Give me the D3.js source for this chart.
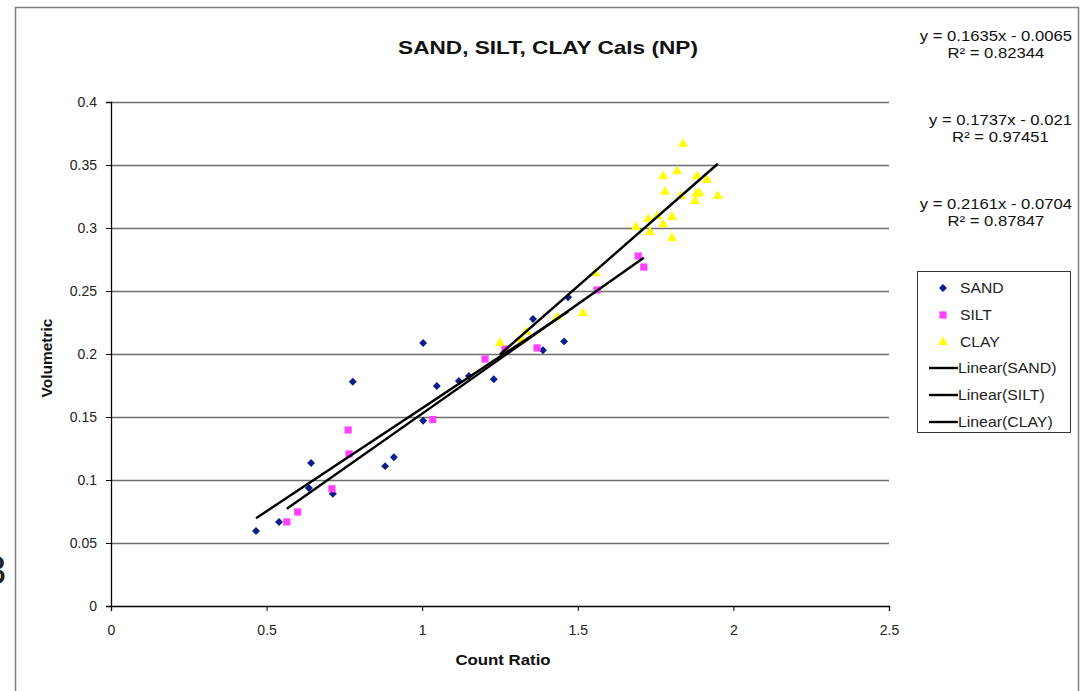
<!DOCTYPE html>
<html>
<head>
<meta charset="utf-8">
<script src="https://cdn.jsdelivr.net/npm/d3@7"></script>
<style>
  body { margin: 0; background: #fff; }
  text { font-family: "Liberation Sans", Arial, sans-serif; }
</style>
</head>
<body>
<div id="myChart"></div>
<script>
// readings
var sandX = [0.466, 0.54, 0.643, 0.636, 0.713, 0.777, 0.881, 0.909, 1.003, 1.003, 1.047, 1.118, 1.15, 1.23, 1.356, 1.388, 1.456, 1.469];
var sandY = [0.0595, 0.0667, 0.1135, 0.0937, 0.089, 0.178, 0.111, 0.118, 0.2087, 0.147, 0.1746, 0.1786, 0.1825, 0.18, 0.2278, 0.203, 0.21, 0.245];

var siltX = [0.565, 0.60, 0.71, 0.765, 0.762, 1.034, 1.202, 1.266, 1.369, 1.562, 1.694, 1.712];
var siltY = [0.0667, 0.0746, 0.093, 0.1206, 0.1397, 0.148, 0.196, 0.204, 0.2048, 0.2508, 0.2778, 0.269];

var clayX = [1.25, 1.32, 1.334, 1.433, 1.517, 1.555, 1.838, 1.774, 1.819, 1.883, 1.915, 1.78, 1.832, 1.88, 1.89, 1.877, 1.95, 1.726, 1.755, 1.803, 1.774, 1.687, 1.732, 1.803];
var clayY = [0.2087, 0.211, 0.2175, 0.229, 0.2325, 0.264, 0.3667, 0.341, 0.345, 0.341, 0.338, 0.3286, 0.3254, 0.327, 0.3278, 0.3214, 0.3254, 0.307, 0.3095, 0.3087, 0.303, 0.3008, 0.2968, 0.292];

var seriesNames = ["SAND", "SILT", "CLAY"];
var slopes = [0.1635, 0.1737, 0.2161];
var intercepts = [-0.0065, -0.021, -0.0704];
var eqTexts = ["y = 0.1635x - 0.0065", "y = 0.1737x - 0.021", "y = 0.2161x - 0.0704"];
var r2Texts = ["R\u00b2 = 0.82344", "R\u00b2 = 0.97451", "R\u00b2 = 0.87847"];

var xTicks = [0, 0.5, 1, 1.5, 2, 2.5];
var yTicks = [0, 0.05, 0.1, 0.15, 0.2, 0.25, 0.3, 0.35, 0.4];

var colors = ["#0b1c8c", "#ff40ff", "#ffff00"];
var allX = [sandX, siltX, clayX];
var allY = [sandY, siltY, clayY];

var svg = d3.select("#myChart").append("svg")
  .attr("width", 1090).attr("height", 691);

// text in the source is a little wider than Liberation Sans, stretch it
function stretch(t, k) {
  var w = t.node().getComputedTextLength();
  t.attr("textLength", w * k).attr("lengthAdjust", "spacingAndGlyphs");
  return t;
}

// outer chart frame
svg.append("path")
  .attr("d", "M15.5,700 V7.5 H1078.5 V700")
  .attr("fill", "none").attr("stroke", "#808080").attr("stroke-width", 1.5);

// stray glyph at the left edge
svg.append("text").attr("x", -16).attr("y", 584)
  .attr("font-size", 40).attr("fill", "#222").text("3");

var x = d3.scaleLinear().domain([0, 2.5]).range([111, 889]);
var y = d3.scaleLinear().domain([0, 0.4]).range([606, 102]);

// gridlines
svg.append("g").selectAll("line")
  .data(yTicks.slice(1))
  .enter().append("line")
  .attr("x1", x(0)).attr("x2", x(2.5))
  .attr("y1", function(d) { return Math.round(y(d)) + 0.5; })
  .attr("y2", function(d) { return Math.round(y(d)) + 0.5; })
  .attr("stroke", "#6e6e6e").attr("stroke-width", 1.6);

var yAxis = svg.append("g")
  .attr("transform", "translate(" + x(0) + ",0)")
  .call(d3.axisLeft(y).tickValues(yTicks).tickSize(5).tickPadding(9)
    .tickFormat(function(d) { return String(+d.toFixed(2)); }));

var xAxis = svg.append("g")
  .attr("transform", "translate(0," + y(0) + ")")
  .call(d3.axisBottom(x).tickValues(xTicks).tickSize(5).tickPadding(14)
    .tickFormat(function(d) { return String(d); }));

[xAxis, yAxis].forEach(function(a) {
  a.selectAll("text").attr("font-size", 14).attr("fill", "#222")
    .attr("font-family", "'Liberation Sans', Arial, sans-serif");
  a.selectAll("line").attr("stroke", "#000");
  a.select(".domain").attr("stroke", "#000").attr("stroke-width", 1.3);
});

// titles
stretch(svg.append("text").attr("x", 548).attr("y", 54).attr("text-anchor", "middle")
  .attr("font-size", 19).attr("font-weight", "bold").attr("fill", "#111")
  .text("SAND, SILT, CLAY Cals (NP)"), 1.19);
stretch(svg.append("text").attr("x", 503).attr("y", 665).attr("text-anchor", "middle")
  .attr("font-size", 15).attr("font-weight", "bold").attr("fill", "#111")
  .text("Count Ratio"), 1.12);
svg.append("text").attr("transform", "translate(52,358) rotate(-90)")
  .attr("text-anchor", "middle")
  .attr("font-size", 15.5).attr("font-weight", "bold").attr("fill", "#111")
  .text("Volumetric");

var diamond = d3.symbol().type(d3.symbolDiamond2).size(40);
var square = d3.symbol().type(d3.symbolSquare).size(52);
var triangle = d3.symbol().type(d3.symbolTriangle).size(44);
var shapes = [diamond, square, triangle];

// markers
seriesNames.forEach(function(name, i) {
  var pts = d3.zip(allX[i], allY[i]);
  svg.append("g").selectAll("path")
    .data(pts)
    .enter().append("path")
    .attr("d", shapes[i])
    .attr("transform", function(p) { return "translate(" + x(p[0]) + "," + y(p[1]) + ")"; })
    .attr("fill", colors[i]);
});

// trendlines
var line = d3.line().x(function(d) { return x(d[0]); }).y(function(d) { return y(d[1]); });
seriesNames.forEach(function(name, i) {
  var ext = d3.extent(allX[i]);
  var pts = ext.map(function(v) { return [v, slopes[i] * v + intercepts[i]]; });
  svg.append("path").attr("d", line(pts))
    .attr("fill", "none").attr("stroke", "#000").attr("stroke-width", 2.4);
});

// equations
var eqY = [41, 125, 209];
seriesNames.forEach(function(name, i) {
  var t = stretch(svg.append("text").attr("x", 1072).attr("y", eqY[i])
    .attr("text-anchor", "end").attr("font-size", 15).attr("fill", "#111")
    .text(eqTexts[i]), 1.11);
  var w = +t.attr("textLength");
  stretch(svg.append("text").attr("x", 1072 - w / 2).attr("y", eqY[i] + 17)
    .attr("text-anchor", "middle").attr("font-size", 15).attr("fill", "#111")
    .text(r2Texts[i]), 1.11);
});

// legend
var lg = svg.append("g");
lg.append("rect").attr("x", 917.5).attr("y", 271.5).attr("width", 153).attr("height", 161)
  .attr("fill", "#fff").attr("stroke", "#333").attr("stroke-width", 1);
var rowY = [288, 315, 342, 368, 395, 422];
seriesNames.forEach(function(name, i) {
  lg.append("path").attr("d", shapes[i])
    .attr("transform", "translate(943," + rowY[i] + ")")
    .attr("fill", colors[i]);
  stretch(lg.append("text").attr("x", 960).attr("y", rowY[i] + 5)
    .attr("font-size", 14).attr("fill", "#222").text(name), 1.12);
});
seriesNames.forEach(function(name, i) {
  var ry = rowY[i + 3];
  lg.append("line").attr("x1", 929).attr("x2", 958).attr("y1", ry).attr("y2", ry)
    .attr("stroke", "#000").attr("stroke-width", 2.4);
  stretch(lg.append("text").attr("x", 958).attr("y", ry + 5)
    .attr("font-size", 14).attr("fill", "#222").text("Linear(" + name + ")"), 1.13);
});
</script>
</body>
</html>
